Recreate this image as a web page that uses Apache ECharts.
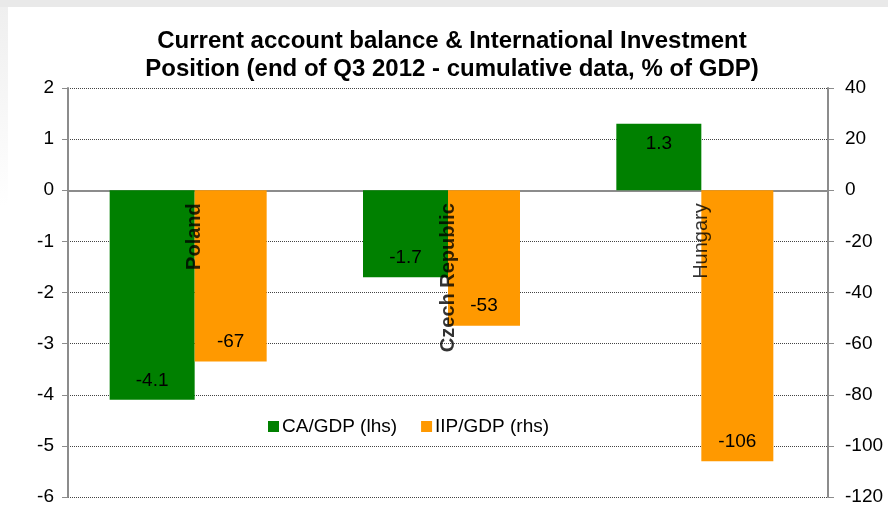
<!DOCTYPE html>
<html>
<head>
<meta charset="utf-8">
<script src="https://cdn.jsdelivr.net/npm/echarts@6/dist/echarts.min.js"></script>
<style>
  html, body { margin: 0; padding: 0; }
  body {
    width: 888px; height: 506px; overflow: hidden;
    background:
      linear-gradient(#e9e9e9, #e9e9e9) top left / 888px 7px no-repeat,
      linear-gradient(#efefef, #ffffff) 0 7px / 8px 200px no-repeat,
      #ffffff;
  }
  #chart { width: 888px; height: 506px; }
</style>
</head>
<body>
<div id="chart"></div>
<script>
const countries = ["Poland", "Czech Republic", "Hungary"];
const caGdp = [-4.1, -1.7, 1.3];      // lhs, % of GDP
const iipGdp = [-67, -53, -106];      // rhs, % of GDP
const leftTicks = { min: -6, max: 2, step: 1 };
const rightTicks = { min: -120, max: 40, step: 20 };

const GREEN = "#008000";
const ORANGE = "#ff9900";
const AXIS_GREY = "#8c8c8c";
const FONT = "Liberation Sans, Arial, sans-serif";

// bar label at the far end of each bar, inside
function endLabel(values) {
  return values.map(function (v) {
    return {
      value: v,
      label: { position: v < 0 ? "insideBottom" : "insideTop" }
    };
  });
}

// country names hang below the zero line, rotated, Hungary not bold
const nameMarks = countries.map(function (c) {
  return {
    value: 0,
    name: c,
    label: { fontWeight: c === "Hungary" ? "normal" : "bold" }
  };
});

const chart = echarts.init(document.getElementById("chart"));

const option = {
  backgroundColor: "transparent",
  animation: false,
  title: {
    text: "Current account balance & International Investment\nPosition (end of Q3 2012 - cumulative data, % of GDP)",
    left: 452,
    top: 27,
    padding: 0,
    textAlign: "center",
    textStyle: {
      fontFamily: FONT,
      fontSize: 24,
      fontWeight: "bold",
      color: "#000",
      lineHeight: 28
    }
  },
  legend: {
    data: ["CA/GDP (lhs)", "IIP/GDP (rhs)"],
    left: 263,
    top: 412,
    icon: "rect",
    itemWidth: 11,
    itemHeight: 11,
    itemGap: 24,
    textStyle: { fontFamily: FONT, fontSize: 19, color: "#000", padding: [0, 0, 0, -2] }
  },
  grid: { left: 68, right: 60, top: 88, bottom: 9, containLabel: false, outerBoundsMode: "none" },
  xAxis: [
    {
      type: "category",
      data: countries,
      axisLine: { onZero: true, lineStyle: { color: AXIS_GREY, width: 2 } },
      axisTick: { show: false },
      axisLabel: { show: false }
    },
    { type: "category", data: countries, show: false }
  ],
  yAxis: [
    {
      type: "value",
      min: leftTicks.min,
      max: leftTicks.max,
      interval: leftTicks.step,
      axisLine: { show: true, lineStyle: { color: AXIS_GREY, width: 2 } },
      axisTick: { show: true, length: 6, lineStyle: { color: AXIS_GREY, width: 1 } },
      axisLabel: { fontFamily: FONT, fontSize: 19, color: "#000", margin: 14 },
      splitLine: { lineStyle: { color: "#444", type: [1, 1], width: 1 } }
    },
    {
      type: "value",
      position: "right",
      min: rightTicks.min,
      max: rightTicks.max,
      interval: rightTicks.step,
      axisLine: { show: true, lineStyle: { color: AXIS_GREY, width: 2 } },
      axisTick: { show: true, length: 6, lineStyle: { color: AXIS_GREY, width: 1 } },
      axisLabel: { fontFamily: FONT, fontSize: 19, color: "#000", margin: 17 },
      splitLine: { show: false }
    }
  ],
  series: [
    {
      name: "CA/GDP (lhs)",
      type: "bar",
      xAxisIndex: 0,
      yAxisIndex: 0,
      barWidth: 85,
      barGap: "0%",
      itemStyle: { color: GREEN },
      label: { show: true, distance: 10, fontFamily: FONT, fontSize: 19, color: "#000" },
      data: endLabel(caGdp)
    },
    {
      name: "pad-left",
      type: "bar",
      xAxisIndex: 0,
      yAxisIndex: 0,
      barWidth: 85,
      barGap: "0%",
      data: countries.map(function () { return null; })
    },
    {
      name: "pad-right",
      type: "bar",
      xAxisIndex: 1,
      yAxisIndex: 1,
      barWidth: 72,
      barGap: "0%",
      data: countries.map(function () { return null; })
    },
    {
      name: "IIP/GDP (rhs)",
      type: "bar",
      xAxisIndex: 1,
      yAxisIndex: 1,
      barWidth: 72,
      barGap: "0%",
      itemStyle: { color: ORANGE },
      label: { show: true, distance: 10, fontFamily: FONT, fontSize: 19, color: "#000" },
      data: endLabel(iipGdp)
    },
    {
      name: "country names",
      type: "scatter",
      xAxisIndex: 0,
      yAxisIndex: 0,
      z: 5,
      symbolSize: 0,
      silent: true,
      label: {
        show: true,
        formatter: "{b}",
        position: [0, 13],
        rotate: 90,
        align: "right",
        verticalAlign: "middle",
        fontFamily: FONT,
        fontSize: 20,
        color: "#000"
      },
      data: nameMarks
    }
  ]
};

chart.setOption(option);
</script>
</body>
</html>
